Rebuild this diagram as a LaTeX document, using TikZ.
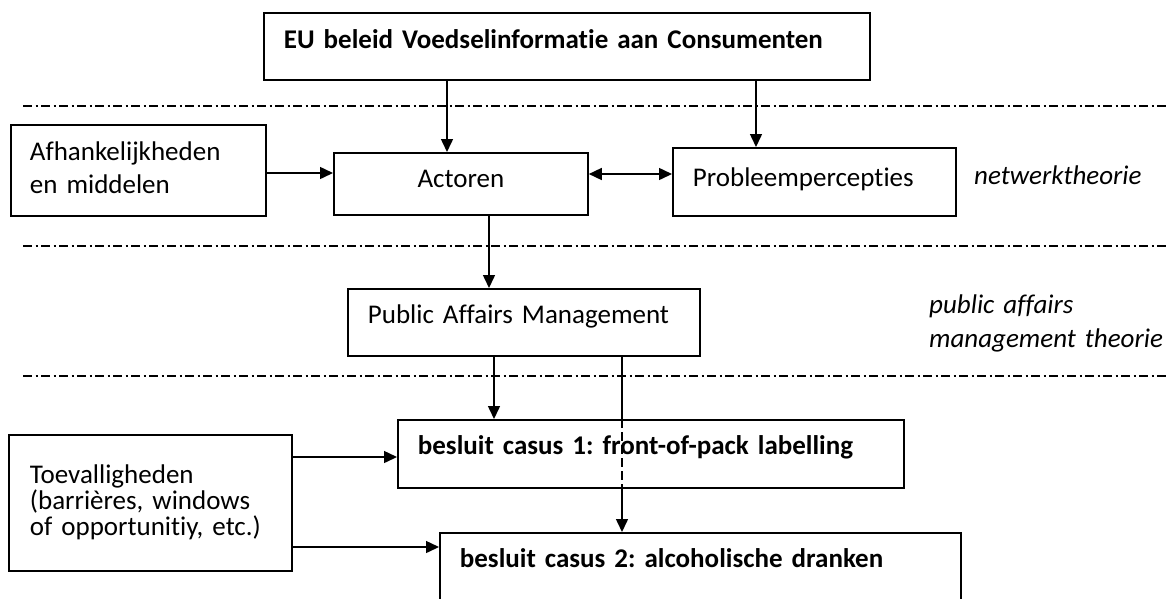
\documentclass[tikz,border=0pt]{standalone}
\usepackage{fontspec}
\setmainfont{Carlito}[RawFeature=-liga]
\usetikzlibrary{arrows.meta,calc}
\frenchspacing
\begin{document}
\begin{tikzpicture}[x=1pt,y=-1pt,
  box/.style={draw,line width=1.8pt,rectangle,anchor=north west,inner ysep=0pt,
    inner xsep=20pt,align=left,font=\fontsize{27}{33}\selectfont},
  conn/.style={line width=1.5pt},
  tip/.tip={Triangle[length=13pt,width=12pt]},
  arr/.style={conn,-tip},
  layer/.style={line width=1.3pt,dash pattern=on 9pt off 3.5pt on 2pt off 3.5pt},
  theory/.style={inner sep=0pt,align=left,font=\fontsize{27}{34}\selectfont\itshape}]

\useasboundingbox (0,0) rectangle (1172,598);
\clip (0,0) rectangle (1172,598);

% layer separators
\foreach \yy [count=\i] in {106,246,376}{
  \coordinate (l\i a) at (23,\yy);
  \coordinate (l\i b) at (1167,\yy);
  \draw[layer] (l\i a) -- (l\i b);
}

% boxes
\node[box,font=\fontsize{27}{33}\selectfont\bfseries,text width=566pt,text height=36pt,text depth=31pt]
  (eu) at (263,12) {EU beleid Voedselinformatie aan Consumenten};
\node[box,inner xsep=19pt,text width=217pt,text height=36pt,text depth=55pt]
  (afh) at (10,124) {Afhankelijkheden\\en middelen};
\node[box,align=center,text width=214pt,text height=35pt,text depth=27pt]
  (act) at (333,152) {Actoren};
\node[box,text width=243pt,text height=39pt,text depth=29pt]
  (prob) at (672,147) {Probleempercepties};
\node[box,text width=312pt,text height=35pt,text depth=32pt]
  (pam) at (347,288) {Public Affairs Management};
\node[box,font=\fontsize{27}{33}\selectfont\bfseries,text width=466pt,text height=35pt,text depth=33pt]
  (c1) at (397,419) {besluit casus 1: front-of-pack labelling};
\node[box,font=\fontsize{27}{33}\selectfont\bfseries,text width=481pt,text height=35pt,text depth=40pt]
  (c2) at (439,532) {besluit casus 2: alcoholische dranken};
\node[box,inner xsep=21pt,font=\fontsize{27}{26}\selectfont,text width=241pt,text height=49pt,text depth=87pt]
  (toe) at (8,434) {Toevalligheden\\(barrières, windows\\of opportunitiy, etc.)};

% theory labels
\node[theory,anchor=base west] (nt) at (974,184) {netwerktheorie};
\node[theory,anchor=north west,text height=20pt,text width=250pt] (pat) at (929,293)
  {public affairs\\management theorie};

% connector positions
\coordinate (xa) at (447,0);
\coordinate (xb) at (756,0);
\coordinate (xc) at (489,0);
\coordinate (xd) at (494,0);
\coordinate (xe) at (622,0);
\coordinate (ya) at (0,173);
\coordinate (yb) at (0,174);
\coordinate (yc) at (0,457);
\coordinate (yd) at (0,547);

% connectors
\draw[arr] (eu.south -| xa) -- (act.north -| xa);
\draw[arr] (eu.south -| xb) -- (prob.north -| xb);
\draw[arr] (afh.east |- ya) -- (act.west |- ya);
\draw[conn,tip-tip] (act.east |- yb) -- (prob.west |- yb);
\draw[arr] (act.south -| xc) -- (pam.north -| xc);
\draw[arr] (pam.south -| xd) -- (c1.north -| xd);
\draw[conn] (pam.south -| xe) -- (c1.north -| xe);
\draw[conn,dash pattern=on 9pt off 4pt] (c1.north -| xe) -- (c1.south -| xe);
\draw[arr] (c1.south -| xe) -- (c2.north -| xe);
\draw[arr] (toe.east |- yc) -- (c1.west |- yc);
\draw[arr] (toe.east |- yd) -- (c2.west |- yd);
\end{tikzpicture}
\end{document}
